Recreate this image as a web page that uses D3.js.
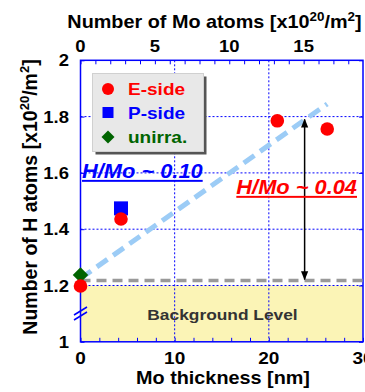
<!DOCTYPE html>
<html>
<head>
<meta charset="utf-8">
<script src="https://d3js.org/d3.v7.min.js"></script>
<style>
body { margin: 0; background: #fff; }
text { font-family: "Liberation Sans", Arial, sans-serif; font-weight: bold; }
</style>
</head>
<body>
<svg id="chart" width="365" height="392"></svg>
<script>
// data
var eThick = [0, 4.3, 20.9, 26.2];
var eH = [1.198, 1.436, 1.785, 1.756];
var pThick = [4.3];
var pH = [1.474];
var uThick = [0];
var uH = [1.237];
var fitThick = [0, 26.2];
var fitH = [1.225, 1.845];
var bgLevel = 1.218;
var arrowThick = 23.8;
var arrowTop = 1.79;
var xTicks = [0, 10, 20, 30];
var yTicks = [1, 1.2, 1.4, 1.6, 1.8, 2];
var topTicks = [0, 5, 10, 15];
var moPerNm = 0.633; // x10^20/m^2 per nm

var svg = d3.select("#chart");
var SX = 1.12; // the picture's text is a bit wide

var pL = 80.5, pR = 363, pT = 60.3, pB = 341.8;
var w = pR - pL, h = pB - pT;

var x = d3.scaleLinear().domain([0, 30]).range([pL, pR]);
var xTop = d3.scaleLinear().domain([0, 30 * moPerNm]).range([pL, pR]);
var y = d3.scaleLinear().domain([1, 2]).range([pB, pT]);

function label(g, px, py, str, size, anchor) {
  return g.append("text")
    .attr("transform", "translate(" + px + "," + py + ") scale(" + SX + ",1)")
    .attr("text-anchor", anchor || "middle")
    .style("font-size", size + "px")
    .text(str);
}

// background level band
svg.append("rect")
  .attr("x", x(0)).attr("y", y(1.2))
  .attr("width", x(30) - x(0)).attr("height", y(1) - y(1.2))
  .attr("fill", "#fbf4b6");

// grid
var grid = svg.append("g").attr("stroke", "#0000ff").attr("stroke-width", 1).attr("stroke-dasharray", "2,2");
grid.selectAll(".gx").data([10, 20]).enter().append("line")
  .attr("x1", function (d) { return x(d); }).attr("x2", function (d) { return x(d); })
  .attr("y1", pT).attr("y2", pB);
grid.selectAll(".gy").data([1.2, 1.4, 1.6, 1.8]).enter().append("line")
  .attr("y1", function (d) { return y(d); }).attr("y2", function (d) { return y(d); })
  .attr("x1", pL).attr("x2", pR);

// minor ticks
function blueTicks(g) { g.select(".domain").remove(); g.selectAll("line").attr("stroke", "#0000ff"); }
svg.append("g").attr("transform", "translate(0," + pB + ")")
  .call(d3.axisBottom(x).tickValues(d3.range(0, 31, 2)).tickSize(-4).tickFormat(""))
  .call(blueTicks);
svg.append("g").attr("transform", "translate(0," + pT + ")")
  .call(d3.axisTop(xTop).tickValues(d3.range(0, 19, 1)).tickSize(-4).tickFormat(""))
  .call(blueTicks);
svg.append("g").attr("transform", "translate(" + pL + ",0)")
  .call(d3.axisLeft(y).tickValues(yTicks).tickSize(-4).tickFormat(""))
  .call(blueTicks);
svg.append("g").attr("transform", "translate(" + pR + ",0)")
  .call(d3.axisRight(y).tickValues(yTicks).tickSize(-4).tickFormat(""))
  .call(blueTicks);

// frame
svg.append("rect").attr("x", pL).attr("y", pT).attr("width", w).attr("height", h)
  .attr("fill", "none").attr("stroke", "#0000ff").attr("stroke-width", 1.5);

// axis break mark
svg.append("g").attr("stroke", "#0000ff").attr("stroke-width", 1.5)
  .selectAll("line").data([0, 5]).enter().append("line")
  .attr("x1", 74).attr("x2", 87)
  .attr("y1", function (d) { return 315 + d; }).attr("y2", function (d) { return 307 + d; });

// background level dashed line
svg.append("line")
  .attr("x1", x(0)).attr("x2", x(30)).attr("y1", y(bgLevel)).attr("y2", y(bgLevel))
  .attr("stroke", "#999").attr("stroke-width", 3.5).attr("stroke-dasharray", "10,6");

// fit line
svg.append("line")
  .attr("x1", x(fitThick[0])).attr("y1", y(fitH[0]))
  .attr("x2", x(fitThick[1])).attr("y2", y(fitH[1]))
  .attr("stroke", "#9cccf6").attr("stroke-width", 5).attr("stroke-dasharray", "13,7");

// arrow
var defs = svg.append("defs");
defs.append("marker").attr("id", "ah").attr("viewBox", "0 0 10 10")
  .attr("refX", 9).attr("refY", 5).attr("markerWidth", 9).attr("markerHeight", 9)
  .attr("markerUnits", "userSpaceOnUse").attr("orient", "auto-start-reverse")
  .append("path").attr("d", "M0,1 L10,5 L0,9 Z").attr("fill", "#000");
svg.append("line")
  .attr("x1", x(arrowThick)).attr("x2", x(arrowThick))
  .attr("y1", y(arrowTop)).attr("y2", y(bgLevel) - 1)
  .attr("stroke", "#000").attr("stroke-width", 1.5)
  .attr("marker-start", "url(#ah)").attr("marker-end", "url(#ah)");

// points
var sym = d3.symbol();
svg.selectAll(".u").data(uThick).enter().append("path")
  .attr("transform", function (d, i) { return "translate(" + x(d) + "," + y(uH[i]) + ") rotate(45)"; })
  .attr("d", sym.type(d3.symbolSquare).size(120)()).attr("fill", "#006400");
svg.selectAll(".p").data(pThick).enter().append("rect")
  .attr("x", function (d) { return x(d) - 7; }).attr("y", function (d, i) { return y(pH[i]) - 7; })
  .attr("width", 14).attr("height", 14).attr("fill", "#0000ff");
svg.selectAll(".e").data(eThick).enter().append("circle")
  .attr("cx", function (d) { return x(d); }).attr("cy", function (d, i) { return y(eH[i]); })
  .attr("r", 6.8).attr("fill", "#ff0000");

// legend
var lg = svg.append("g");
lg.append("rect").attr("x", 95.5).attr("y", 76.5).attr("width", 111).attr("height", 78).attr("fill", "#555");
lg.append("rect").attr("x", 92.5).attr("y", 73.5).attr("width", 111).attr("height", 78)
  .attr("fill", "#e8e8e8").attr("stroke", "#d0d0d0");
var legItems = [["E-side", "#ff0000"], ["P-side", "#0000ff"], ["unirra.", "#006400"]];
var legY = [89, 112.5, 137];
lg.append("circle").attr("cx", 108).attr("cy", legY[0]).attr("r", 6).attr("fill", "#ff0000");
lg.append("rect").attr("x", 102.5).attr("y", legY[1] - 5.5).attr("width", 11).attr("height", 11).attr("fill", "#0000ff");
lg.append("path").attr("transform", "translate(108," + legY[2] + ") rotate(45)")
  .attr("d", sym.type(d3.symbolSquare).size(85)()).attr("fill", "#006400");
legItems.forEach(function (d, i) {
  label(lg, 128, legY[i] + 6, d[0], 17, "start").attr("fill", d[1]);
});

// tick labels
xTicks.forEach(function (d) { label(svg, x(d), 364, d, 17); });
topTicks.forEach(function (d) { label(svg, xTop(d), 51.5, d, 16.5); });
yTicks.forEach(function (d) { label(svg, 69, y(d) + 6, d, 16.5, "end"); });

// axis titles
var tt = label(svg, 214.5, 28, "Number of Mo atoms [x10", 17.7);
tt.append("tspan").attr("dy", -7).style("font-size", "12px").text("20");
tt.append("tspan").attr("dy", 7).text("/m");
tt.append("tspan").attr("dy", -7).style("font-size", "12px").text("2");
tt.append("tspan").attr("dy", 7).text("]");

label(svg, 223, 384, "Mo thickness [nm]", 17.7);

var yt = svg.append("text")
  .attr("transform", "translate(37,197) rotate(-90)")
  .attr("text-anchor", "middle").style("font-size", "19.5px")
  .text("Number of H atoms [x10");
yt.append("tspan").attr("dy", -8).style("font-size", "13px").text("20");
yt.append("tspan").attr("dy", 8).text("/m");
yt.append("tspan").attr("dy", -8).style("font-size", "13px").text("2");
yt.append("tspan").attr("dy", 8).text("]");

// annotations
label(svg, 82, 178, "H/Mo ~ 0.10", 19.5, "start")
  .attr("fill", "#0000ff").style("font-style", "italic").style("text-decoration", "underline");
label(svg, 357, 194, "H/Mo ~ 0.04", 19.5, "end")
  .attr("fill", "#ff0000").style("font-style", "italic").style("text-decoration", "underline");
label(svg, 222.5, 320, "Background Level", 15.5).attr("fill", "#333");
</script>
</body>
</html>
